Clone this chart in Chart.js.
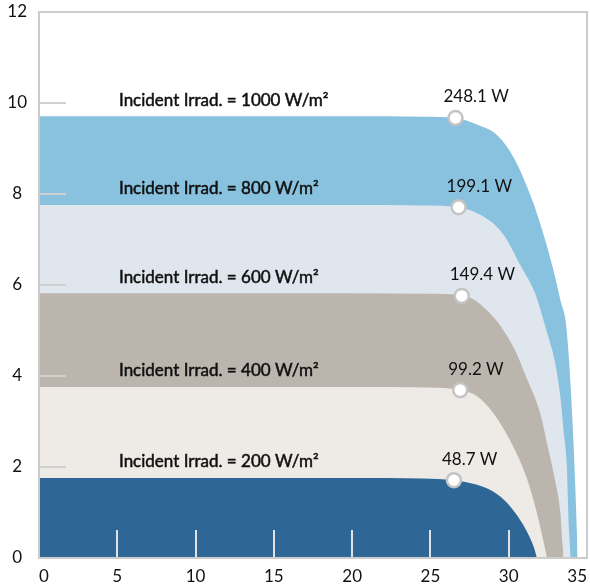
<!DOCTYPE html>
<html>
<head>
<meta charset="utf-8">
<script src="https://cdn.jsdelivr.net/npm/chart.js@4.4.0/dist/chart.umd.min.js"></script>
<style>
  html, body { margin: 0; padding: 0; background: #fff; }
</style>
</head>
<body>
<canvas id="ivChart" width="590" height="587"></canvas>
<script>
// irradiance levels (W/m2), top curve first
var irradiance = [1000, 800, 600, 400, 200];

// I-V curves: volts / amps
var v1000 = [0, 20, 24.5, 26.6, 28.0, 29.3, 30.4, 31.5, 32.2, 32.8, 33.3, 33.7, 34.1, 34.35, 34.4];
var i1000 = [9.71, 9.71, 9.70, 9.67, 9.52, 9.28, 8.75, 7.87, 7.14, 6.40, 5.67, 5.01, 2.81, 0.62, 0];

var v800 = [0, 20, 24.5, 26.8, 28.3, 29.6, 30.8, 31.7, 32.4, 32.96, 33.3, 33.5, 33.7, 33.85, 33.96];
var i800 = [7.76, 7.76, 7.75, 7.71, 7.52, 7.14, 6.40, 5.8, 5.01, 4.29, 3.54, 2.81, 2.09, 0.62, 0];

var v600 = [0, 20, 24.8, 27.0, 28.8, 30.3, 31.2, 32.0, 32.5, 32.96, 33.3, 33.45, 33.5];
var i600 = [5.82, 5.82, 5.81, 5.78, 5.38, 4.64, 3.91, 3.19, 2.44, 1.71, 0.99, 0.24, 0];

var v400 = [0, 20, 24.8, 26.9, 28.0, 29.0, 30.3, 31.2, 31.8, 32.3, 32.45];
var i400 = [3.76, 3.76, 3.75, 3.69, 3.55, 3.19, 2.44, 1.71, 0.99, 0.24, 0];

var v200 = [0, 20, 24.5, 26.5, 28.4, 29.5, 30.4, 31.1, 31.6, 31.8];
var i200 = [1.76, 1.76, 1.75, 1.71, 1.56, 1.34, 1.0, 0.62, 0.24, 0];

// maximum power points
var mppV = [26.6, 26.8, 27.0, 26.9, 26.5];
var mppI = [9.67, 7.71, 5.76, 3.69, 1.71];
var mppW = [248.1, 199.1, 149.4, 99.2, 48.7];

var curves = [
  {v: v1000, i: i1000, color: '#89c2df'},
  {v: v800,  i: i800,  color: '#e0e6ee'},
  {v: v600,  i: i600,  color: '#bbb5ae'},
  {v: v400,  i: i400,  color: '#eeebe6'},
  {v: v200,  i: i200,  color: '#2e6795'},
];

function pts(xs, ys) {
  return xs.map(function(x, k) { return {x: x, y: ys[k]}; });
}

var FONT = 'Lato, "Open Sans", sans-serif';

// frame, inner ticks and text labels
const ivDecor = {
  id: 'ivDecor',
  afterDatasetsDraw(chart) {
    const ctx = chart.ctx, a = chart.chartArea;
    const x = chart.scales.x, y = chart.scales.y;
    ctx.save();
    ctx.lineWidth = 2;
    ctx.strokeStyle = '#d0d0d0';
    for (let t = 2; t <= 10; t += 2) {
      const py = Math.round(y.getPixelForValue(t));
      ctx.beginPath();
      ctx.moveTo(a.left, py);
      ctx.lineTo(a.left + 27, py);
      ctx.stroke();
    }
    ctx.strokeStyle = '#dfe3e8';
    for (let t = 5; t <= 30; t += 5) {
      const px = Math.round(x.getPixelForValue(t));
      ctx.beginPath();
      ctx.moveTo(px, a.bottom);
      ctx.lineTo(px, a.bottom - 28);
      ctx.stroke();
    }
    ctx.strokeStyle = '#cccccc';
    ctx.strokeRect(a.left, a.top, a.right - a.left, a.bottom - a.top);

    ctx.fillStyle = '#111';
    ctx.strokeStyle = '#111';
    ctx.lineWidth = 0.5;
    ctx.textBaseline = 'middle';
    ctx.textAlign = 'left';
    irradiance.forEach(function(g, k) {
      const py = y.getPixelForValue(curves[k].i[0]) - 16;
      const txt = 'Incident Irrad. = ' + g + ' W/m²';
      ctx.font = '17px ' + FONT;
      ctx.fillText(txt, a.left + 80, py);
      ctx.strokeText(txt, a.left + 80, py);
      const mx = x.getPixelForValue(mppV[k]);
      const my = y.getPixelForValue(mppI[k]);
      ctx.fillText(mppW[k].toFixed(1) + ' W', mx - 12, my - 21);
    });
    ctx.restore();
  }
};

var datasets = [{
  label: 'MPP',
  data: pts(mppV, mppI),
  showLine: false,
  pointRadius: 7,
  pointBackgroundColor: '#ffffff',
  pointBorderColor: '#c4c4c4',
  pointBorderWidth: 2.5,
  order: 0,
}];
curves.forEach(function(c, k) {
  datasets.push({
    label: irradiance[k] + ' W/m²',
    data: pts(c.v, c.i),
    fill: 'origin',
    backgroundColor: c.color,
    borderColor: c.color,
    borderWidth: 0,
    pointRadius: 0,
    cubicInterpolationMode: 'monotone',
    tension: 0.4,
    order: 5 - k,
  });
});

function noPad(s) {
  s.paddingTop = 0; s.paddingBottom = 0; s.paddingLeft = 0; s.paddingRight = 0;
}

var chart = new Chart(document.getElementById('ivChart'), {
  type: 'line',
  data: { datasets: datasets },
  options: {
    responsive: false,
    animation: false,
    layout: { autoPadding: false, padding: { top: 12, right: 3, left: 0, bottom: 0 } },
    plugins: {
      legend: { display: false },
      tooltip: { enabled: false },
    },
    scales: {
      x: {
        type: 'linear',
        min: 0,
        max: 35,
        grid: { display: false, drawTicks: false },
        border: { display: false },
        ticks: { stepSize: 5, align: 'inner', padding: 8, color: '#111', font: { family: FONT, size: 17 } },
        afterFit: function(s) { s.height = 29; noPad(s); },
      },
      y: {
        min: 0,
        max: 12,
        grid: { display: false, drawTicks: false },
        border: { display: false },
        ticks: { stepSize: 2, crossAlign: 'center', padding: 12, color: '#111', font: { family: FONT, size: 17 } },
        afterFit: function(s) { s.width = 39; noPad(s); },
      },
    },
  },
  plugins: [ivDecor],
});
</script>
</body>
</html>
